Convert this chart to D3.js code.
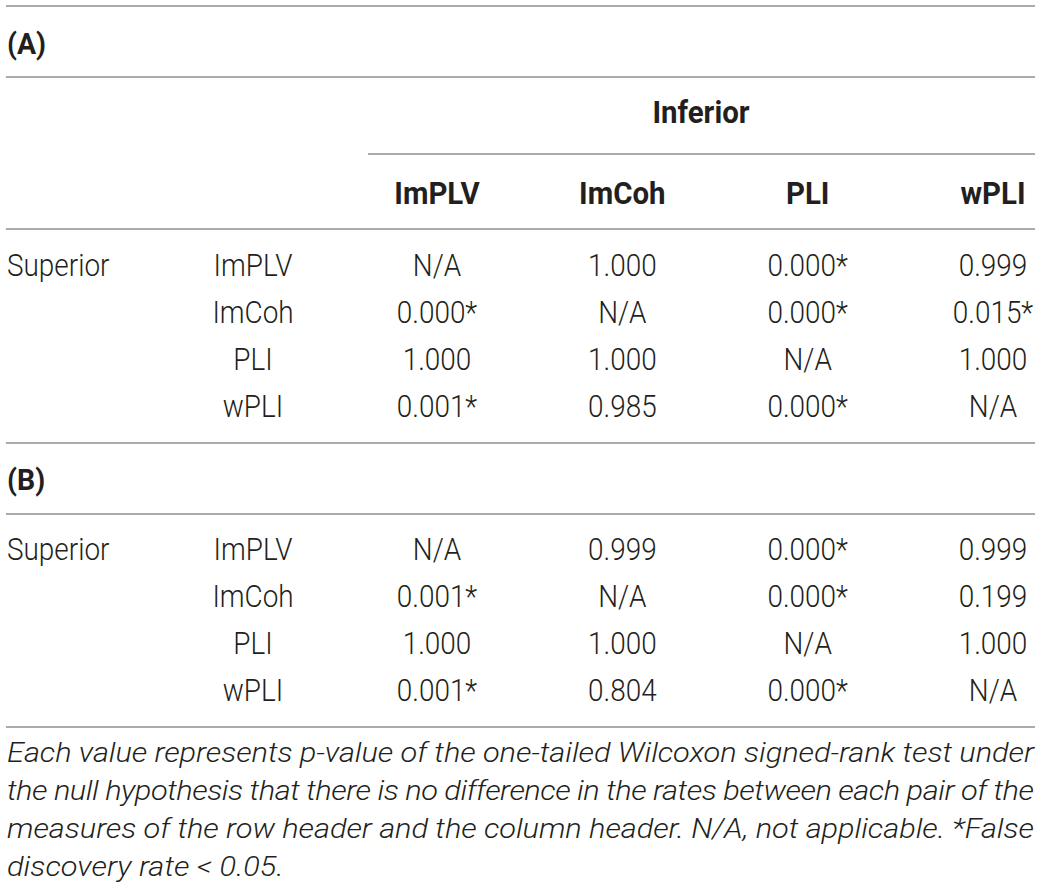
<!DOCTYPE html>
<html>
<head>
<meta charset="utf-8">
<script src="https://cdn.jsdelivr.net/npm/d3@7"></script>
<style>
  html,body{margin:0;padding:0;background:#fff;}
  svg{display:block;}
</style>
</head>
<body>
<div id="chart"></div>
<script>
const measures=["ImPLV","ImCoh","PLI","wPLI"];
const rowGroup="Superior", colGroup="Inferior";
const panels=["(A)","(B)"];
// p-values, rows = superior measure, cols = inferior measure; null = N/A
const pA=[
  [null,1.000,0.000,0.999],
  [0.000,null,0.000,0.015],
  [1.000,1.000,null,1.000],
  [0.001,0.985,0.000,null]
];
const sigA=[
  [false,false,true,false],
  [true,false,true,true],
  [false,false,false,false],
  [true,false,true,false]
];
const pB=[
  [null,0.999,0.000,0.999],
  [0.001,null,0.000,0.199],
  [1.000,1.000,null,1.000],
  [0.001,0.804,0.000,null]
];
const sigB=[
  [false,false,true,false],
  [true,false,true,false],
  [false,false,false,false],
  [true,false,true,false]
];
const footLines=[
  "Each value represents p-value of the one-tailed Wilcoxon signed-rank test under",
  "the null hypothesis that there is no difference in the rates between each pair of the",
  "measures of the row header and the column header. N/A, not applicable. *False",
  "discovery rate < 0.05."
];

(function(){
  const W=1041,H=888;
  const ink="#231f20",rule="#8f8f8f";
  const svg=d3.select("#chart").append("svg").attr("width",W).attr("height",H)
    .style("font-family","Roboto, 'Liberation Sans', sans-serif");
  const L=7,R=1034;
  const fmt=d3.format(".3f");
  const x=d3.scalePoint().domain(measures).range([437,993]);
  const yA=d3.scalePoint().domain(measures).range([276,417]);
  const yB=d3.scalePoint().domain(measures).range([560,701]);

  function txt(xp,yp,s,o){
    o=o||{};
    const sx=o.sx||0.9;
    const t=svg.append("text")
      .attr("transform",`translate(${xp},${yp}) scale(${sx},1)`)
      .attr("text-anchor",o.anchor||"middle")
      .attr("font-size",o.size||31)
      .attr("font-weight",o.weight||300)
      .attr("font-style",o.style||"normal")
      .attr("fill",ink).text(s);
    return t;
  }
  function hline(y,x1){
    svg.append("line").attr("x1",x1==null?L-1:x1).attr("x2",R+1).attr("y1",y).attr("y2",y)
      .attr("stroke",rule).attr("stroke-width",1.6);
  }
  [6,77,229,443,514,727].forEach(y=>hline(y));
  hline(154,368);

  const bold={weight:700,sx:0.95};
  txt(L,54,panels[0],{anchor:"start",weight:700,size:30,sx:0.95});
  txt(L,490,panels[1],{anchor:"start",weight:700,size:30,sx:0.95});
  txt((368+R)/2,123,colGroup,bold);
  measures.forEach(m=>txt(x(m),204,m,bold));

  function body(y,p,sig){
    txt(L,y(measures[0]),rowGroup,{anchor:"start"});
    measures.forEach((rm,i)=>{
      txt(253,y(rm),rm);
      measures.forEach((cm,j)=>{
        const v=p[i][j];
        txt(x(cm),y(rm),v==null?"N/A":fmt(v)+(sig[i][j]?"*":""));
      });
    });
  }
  body(yA,pA,sigA);
  body(yB,pB,sigB);

  const fy=[762,800,838,876], fsx=1.1;
  footLines.forEach((s,i)=>{
    const t=txt(L,fy[i],s,{anchor:"start",style:"italic",size:28,sx:fsx});
    if(i<footLines.length-1) t.attr("textLength",(R-L)/fsx).attr("lengthAdjust","spacing");
  });
})();
</script>
</body>
</html>
